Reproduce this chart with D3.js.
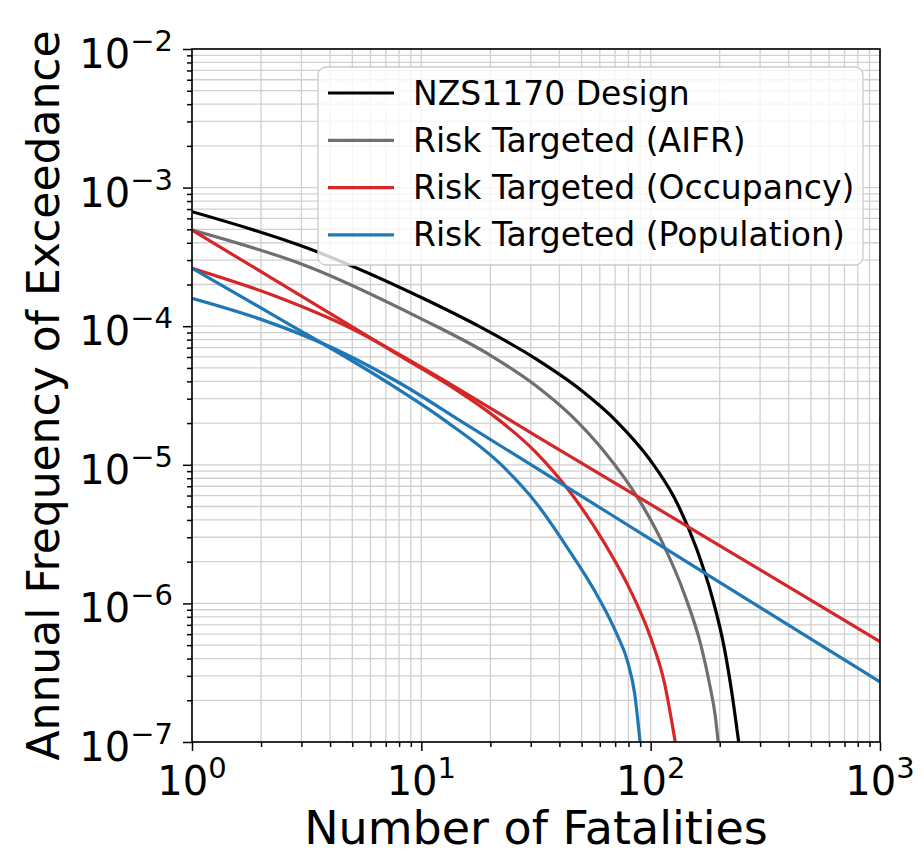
<!DOCTYPE html>
<html>
<head>
<meta charset="utf-8">
<title>Annual frequency of exceedance vs fatalities</title>
<script src="https://d3js.org/d3.v7.min.js"></script>
<style>
  body { margin: 0; background: #fff; }
  text { font-family: "DejaVu Sans", sans-serif; }
</style>
</head>
<body>
<div id="chart"></div>
<script>
// values (fatalities N, annual frequency F)
const designN = [1, 3.16, 10, 17.8, 31.6, 50.1, 70.8, 100, 126, 158, 186, 209, 226, 242];
const designF = [6.70e-4, 3.68e-4, 1.61e-4, 1.00e-4, 5.81e-5, 3.42e-5, 2.07e-5, 1.07e-5, 5.90e-6, 2.52e-6, 1.09e-6, 4.86e-7, 2.26e-7, 1.0e-7];

const aifrN = [1, 3.16, 10, 20, 31.6, 44.7, 63.1, 89.1, 112, 141, 166, 182, 191, 197];
const aifrF = [4.94e-4, 2.72e-4, 1.13e-4, 6.17e-5, 3.72e-5, 2.29e-5, 1.23e-5, 5.56e-6, 2.79e-6, 1.14e-6, 4.91e-7, 2.46e-7, 1.57e-7, 1.0e-7];

const occCurveN = [1, 2.51, 7.94, 14.1, 20, 31.6, 44.7, 63.1, 79.4, 100, 115, 128];
const occCurveF = [4.94e-4, 1.97e-4, 6.22e-5, 3.50e-5, 2.35e-5, 1.23e-5, 6.31e-6, 2.70e-6, 1.36e-6, 5.65e-7, 2.64e-7, 1.0e-7];

const occLineN = [1, 2.24, 5.01, 10, 31.6, 100, 316, 1000];
const occLineF = [2.62e-4, 1.68e-4, 9.55e-5, 5.07e-5, 1.62e-5, 5.18e-6, 1.66e-6, 5.3e-7];

const popCurveN = [1, 2.51, 7.08, 12.6, 22.4, 31.6, 44.7, 56.2, 70.8, 79.4, 85.1, 89.9];
const popCurveF = [2.62e-4, 1.09e-4, 3.95e-5, 2.10e-5, 9.93e-6, 5.33e-6, 2.33e-6, 1.28e-6, 6.12e-7, 3.78e-7, 2.25e-7, 1.0e-7];

const popLineN = [1, 2.0, 3.98, 7.94, 15.8, 39.8, 100, 316, 1000];
const popLineF = [1.59e-4, 1.12e-4, 7.13e-5, 3.94e-5, 1.94e-5, 7.5e-6, 2.9e-6, 8.87e-7, 2.71e-7];

const legendNames = ['NZS1170 Design', 'Risk Targeted (AIFR)', 'Risk Targeted (Occupancy)', 'Risk Targeted (Population)'];
const legendColors = ['#000000', '#6f6f6f', '#d62728', '#1f77b4'];

const xMajor = [1, 10, 100, 1000];
const yMajor = [1e-2, 1e-3, 1e-4, 1e-5, 1e-6, 1e-7];

const lines = [
  { n: designN, f: designF, color: legendColors[0] },
  { n: aifrN, f: aifrF, color: legendColors[1] },
  { n: occCurveN, f: occCurveF, color: legendColors[2] },
  { n: occLineN, f: occLineF, color: legendColors[2] },
  { n: popCurveN, f: popCurveF, color: legendColors[3] },
  { n: popLineN, f: popLineF, color: legendColors[3] }
];

const W = 924, H = 855;
const margin = { top: 49, right: 44, bottom: 113, left: 192 };
const width = W - margin.left - margin.right;
const height = H - margin.top - margin.bottom;

const svg = d3.select('#chart').append('svg')
  .attr('width', W).attr('height', H);
const g = svg.append('g')
  .attr('transform', `translate(${margin.left},${margin.top})`);

const x = d3.scaleLog().domain([1, 1000]).range([0, width]);
const y = d3.scaleLog().domain([1e-7, 1e-2]).range([height, 0]);

// grid (major + minor)
const gridColor = '#d0d0d0';
g.append('g').selectAll('line').data(x.ticks()).enter().append('line')
  .attr('x1', d => x(d)).attr('x2', d => x(d))
  .attr('y1', 0).attr('y2', height)
  .attr('stroke', gridColor).attr('stroke-width', 1.3);
g.append('g').selectAll('line').data(y.ticks()).enter().append('line')
  .attr('y1', d => y(d)).attr('y2', d => y(d))
  .attr('x1', 0).attr('x2', width)
  .attr('stroke', gridColor).attr('stroke-width', 1.3);

// curves
const clip = svg.append('defs').append('clipPath').attr('id', 'plotclip');
clip.append('rect').attr('width', width).attr('height', height);

const lineGen = d3.line()
  .x(d => x(d[0]))
  .y(d => y(d[1]))
  .curve(d3.curveMonotoneX);

g.append('g').attr('clip-path', 'url(#plotclip)')
  .selectAll('path').data(lines).enter().append('path')
  .attr('d', d => lineGen(d.n.map((v, i) => [v, d.f[i]])))
  .attr('fill', 'none')
  .attr('stroke', d => d.color)
  .attr('stroke-width', 3.2)
  .attr('stroke-linejoin', 'round');

// ticks
const isMajor = v => Math.abs(Math.log10(v) - Math.round(Math.log10(v))) < 1e-9;
g.append('g').attr('transform', `translate(0,${height})`)
  .call(d3.axisBottom(x).tickValues(x.ticks()).tickFormat('').tickSizeOuter(0))
  .call(a => a.select('.domain').remove())
  .call(a => a.selectAll('.tick line')
    .attr('y2', d => isMajor(d) ? 9 : 5).attr('stroke', '#000').attr('stroke-width', 1.5));
g.append('g')
  .call(d3.axisLeft(y).tickValues(y.ticks()).tickFormat('').tickSizeOuter(0))
  .call(a => a.select('.domain').remove())
  .call(a => a.selectAll('.tick line')
    .attr('x2', d => isMajor(d) ? -9 : -5).attr('stroke', '#000').attr('stroke-width', 1.5));

// frame
g.append('rect').attr('width', width).attr('height', height)
  .attr('fill', 'none').attr('stroke', '#000').attr('stroke-width', 1.6);

// tick labels: 10^k
function powLabel(sel, k) {
  sel.append('tspan').text('10');
  sel.append('tspan').attr('dy', -17).attr('font-size', 29)
    .text(k < 0 ? '\u2212' + (-k) : String(k));
}
g.append('g').selectAll('text').data(xMajor).enter().append('text')
  .attr('x', d => x(d)).attr('y', height + 53)
  .attr('text-anchor', 'middle').attr('font-size', 40).attr('fill', '#000')
  .each(function(d) { powLabel(d3.select(this), Math.round(Math.log10(d))); });
g.append('g').selectAll('text').data(yMajor).enter().append('text')
  .attr('x', -19).attr('y', d => y(d) + 19)
  .attr('text-anchor', 'end').attr('font-size', 40).attr('fill', '#000')
  .each(function(d) { powLabel(d3.select(this), Math.round(Math.log10(d))); });

// axis titles
svg.append('text')
  .attr('x', margin.left + width / 2).attr('y', 844)
  .attr('text-anchor', 'middle').attr('font-size', 46).attr('fill', '#000')
  .text('Number of Fatalities');
svg.append('text')
  .attr('transform', `translate(59,${margin.top + height / 2}) rotate(-90)`)
  .attr('text-anchor', 'middle').attr('font-size', 44).attr('fill', '#000')
  .text('Annual Frequency of Exceedance');

// legend
const leg = svg.append('g').attr('transform', 'translate(318,67)');
leg.append('rect').attr('width', 545).attr('height', 198)
  .attr('rx', 8).attr('ry', 8)
  .attr('fill', '#fff').attr('fill-opacity', 0.8)
  .attr('stroke', '#cccccc').attr('stroke-width', 1.3);
const items = leg.selectAll('.item').data(legendNames).enter().append('g')
  .attr('class', 'item')
  .attr('transform', (d, i) => `translate(0,${26 + i * 47.3})`);
items.append('line')
  .attr('x1', 10).attr('x2', 76)
  .attr('stroke', (d, i) => legendColors[i]).attr('stroke-width', 3.2);
items.append('text')
  .attr('x', 95).attr('dy', '0.35em')
  .attr('font-size', 33).attr('fill', '#000')
  .text(d => d);
</script>
</body>
</html>
